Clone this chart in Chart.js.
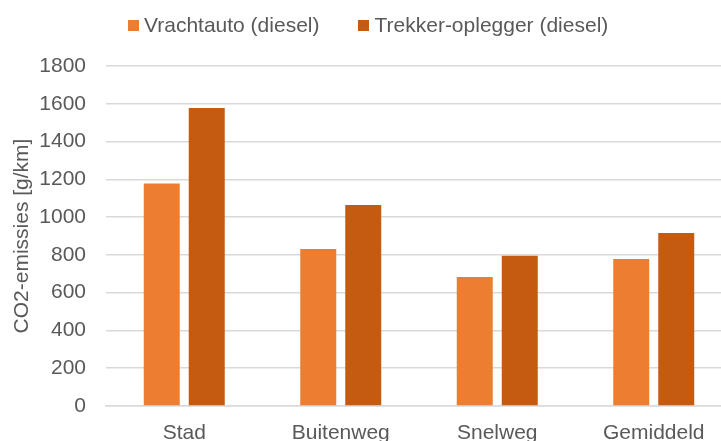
<!DOCTYPE html>
<html>
<head>
<meta charset="utf-8">
<script src="https://cdn.jsdelivr.net/npm/chart.js@4/dist/chart.umd.min.js"></script>
<style>
  html, body { margin: 0; padding: 0; background: #fff; overflow: hidden; }
  #wrap { position: relative; width: 733px; height: 441px; }
  #legend {
    position: absolute; top: 12px; left: 128px;
    display: flex; align-items: center;
    font-family: "Liberation Sans", Arial, sans-serif; font-size: 21px; color: #595959;
    line-height: 26px;
  }
  .item { display: flex; align-items: center; margin-right: 39px; }
  .box { width: 11px; height: 11px; margin-right: 5px; }
</style>
</head>
<body>
<div id="wrap">
  <canvas id="co2Chart"></canvas>
  <div id="legend"></div>
</div>
<script>
const categories = ['Stad', 'Buitenweg', 'Snelweg', 'Gemiddeld'];
const seriesNames = ['Vrachtauto (diesel)', 'Trekker-oplegger (diesel)'];
const vrachtauto = [1178, 831, 683, 778];
const trekkerOplegger = [1578, 1064, 796, 916];
const colors = ['#ED7D31', '#C55A11'];
const yTicks = { min: 0, max: 1800, step: 200 };

const textColor = '#595959';
const fontFamily = '"Liberation Sans", Arial, sans-serif';

// legend
const legend = document.getElementById('legend');
seriesNames.forEach((name, i) => {
  const item = document.createElement('div');
  item.className = 'item';
  item.innerHTML = `<span class="box" style="background:${colors[i]}"></span><span>${name}</span>`;
  legend.appendChild(item);
});

const ctx = document.getElementById('co2Chart').getContext('2d');
new Chart(ctx, {
  type: 'bar',
  data: {
    labels: categories,
    datasets: [
      {
        label: seriesNames[0],
        data: vrachtauto,
        backgroundColor: colors[0],
        barPercentage: 0.8,
        categoryPercentage: 0.575,
      },
      {
        label: seriesNames[1],
        data: trekkerOplegger,
        backgroundColor: colors[1],
        barPercentage: 0.8,
        categoryPercentage: 0.575,
      }
    ]
  },
  options: {
    responsive: true,
    maintainAspectRatio: false,
    animation: false,
    layout: { padding: { top: 66, left: 0, right: 1, bottom: 0 } },
    scales: {
      x: {
        grid: { display: false },
        border: { display: true, color: '#d9d9d9', width: 1.5 },
        ticks: {
          color: textColor,
          font: { family: fontFamily, size: 21 },
          padding: 7,
          maxRotation: 0,
        },
        afterFit: (scale) => { scale.height = 35; }
      },
      y: {
        min: yTicks.min,
        max: yTicks.max,
        grid: { color: '#d9d9d9', lineWidth: 1.5, drawTicks: false },
        border: { display: false },
        ticks: {
          stepSize: yTicks.step,
          color: textColor,
          font: { family: fontFamily, size: 21 },
          padding: 20,
          callback: (value) => String(value),
        },
        title: {
          display: true,
          text: 'CO2-emissies [g/km]',
          color: textColor,
          font: { family: fontFamily, size: 21 },
          padding: { top: 10, bottom: 0 },
        },
        afterFit: (scale) => { scale.width = 106; }
      }
    },
    plugins: {
      legend: { display: false },
      tooltip: { enabled: false },
    }
  }
});
</script>
</body>
</html>
